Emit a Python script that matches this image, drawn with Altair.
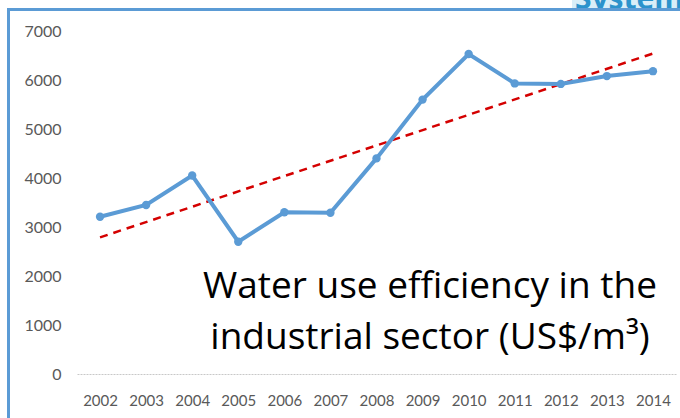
import altair as alt
import pandas as pd

# Industrial water use efficiency, US$ per cubic metre
years = [2002, 2003, 2004, 2005, 2006, 2007, 2008, 2009, 2010, 2011, 2012, 2013, 2014]
values = [3210, 3450, 4050, 2700, 3300, 3290, 4400, 5600, 6530, 5930, 5920, 6080, 6180]
y_ticks = [0, 1000, 2000, 3000, 4000, 5000, 6000, 7000]
title_lines = ["Water use efficiency in the", "industrial sector (US$/m³)"]
header_text = "System"

df = pd.DataFrame({"year": years, "value": values})

BLUE = "#5B9BD5"
FONT = "Lato"

x_enc = alt.X(
    "year:Q",
    scale=alt.Scale(domain=[2001.5, 2014.5], nice=False, zero=False),
    axis=alt.Axis(
        values=years, format="d", title=None, grid=False, ticks=False, tickSize=0,
        labelPadding=26, labelBaseline="middle", labelFont=FONT, labelFontSize=15,
        labelColor="#595959", domainColor="#C8C8C8", domainWidth=1, domainDash=[2, 1],
    ),
)
y_enc = alt.Y(
    "value:Q",
    scale=alt.Scale(domain=[0, 7000], nice=False),
    axis=alt.Axis(
        values=y_ticks, format="d", title=None, grid=False, ticks=False, tickSize=0,
        domain=False, labelPadding=16, labelFont=FONT, labelFontSize=16,
        labelColor="#595959",
    ),
)

base = alt.Chart(df)

series = base.mark_line(
    color=BLUE, strokeWidth=4, point=alt.OverlayMarkDef(color=BLUE, size=70, filled=True, opacity=1)
).encode(x=x_enc, y=y_enc)

trend = base.transform_regression("year", "value").mark_line(
    color="#D40000", strokeWidth=2.5, strokeDash=[8, 6]
).encode(x=x_enc, y=y_enc)

one = alt.Chart(pd.DataFrame({"k": [0]}))

# slide header peeking in at the top right
header_bg = one.mark_rect(color="#D9EEF8").encode(
    x=alt.value(495), x2=alt.value(610), y=alt.value(-31), y2=alt.value(-22)
)
header = one.mark_text(
    text=header_text, font="Open Sans", fontSize=30, fontWeight="bold",
    color="#2C93CC", align="left", baseline="alphabetic",
).encode(x=alt.value(498), y=alt.value(-22))
header_cover = one.mark_rect(color="white").encode(
    x=alt.value(490), x2=alt.value(610), y=alt.value(-22), y2=alt.value(-5)
)

# frame around the chart
frame_left = one.mark_rule(color=BLUE, strokeWidth=3).encode(
    x=alt.value(-68.5), y=alt.value(-21.5), y2=alt.value(400)
)
frame_top = one.mark_rule(color=BLUE, strokeWidth=3).encode(
    x=alt.value(-70), x2=alt.value(620), y=alt.value(-21.5)
)

label1 = one.mark_text(
    text=title_lines[0], font="Open Sans", fontSize=37, color="black", align="center", baseline="alphabetic"
).encode(x=alt.value(353), y=alt.value(267))
label2 = one.mark_text(
    text=title_lines[1], font="Open Sans", fontSize=37, color="black", align="center", baseline="alphabetic"
).encode(x=alt.value(353), y=alt.value(318))

chart = (
    alt.layer(trend, series, header_bg, header, header_cover, frame_left, frame_top, label1, label2)
    .properties(
        width=599,
        height=343,
        padding={"left": 77, "top": 31, "right": 4, "bottom": 44},
        autosize=alt.AutoSizeParams(type="none"),
        background="white",
    )
    .configure_view(stroke=None)
)

chart.save("out.html", embed_options={"renderer": "svg", "actions": False})
